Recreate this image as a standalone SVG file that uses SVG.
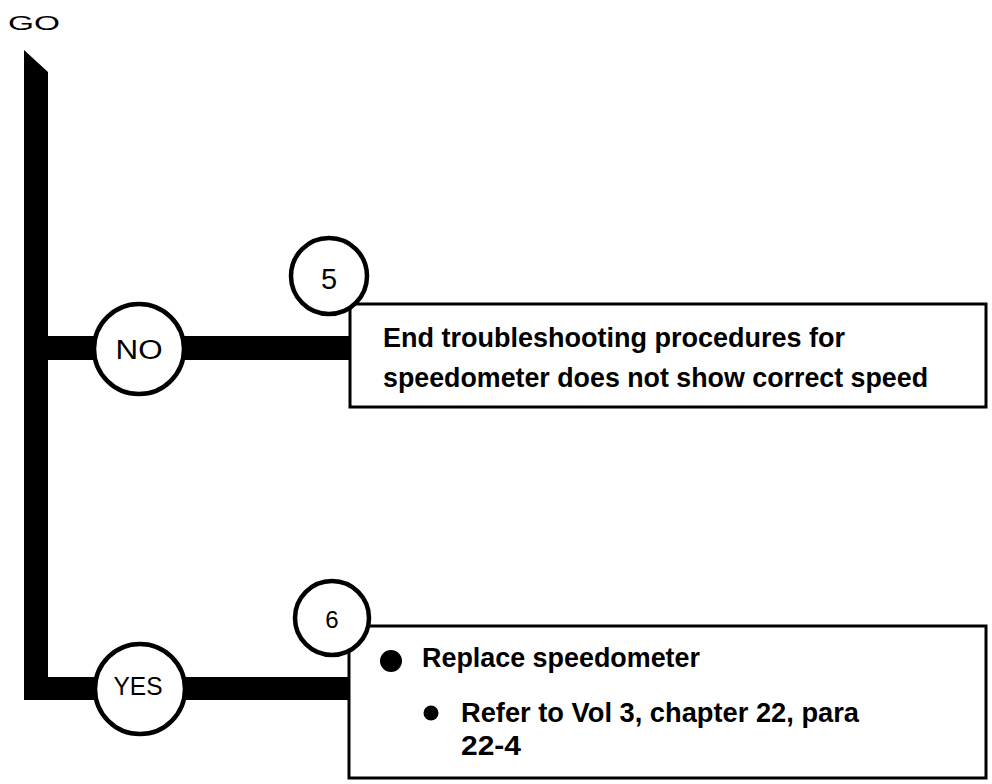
<svg xmlns="http://www.w3.org/2000/svg" width="992" height="784" viewBox="0 0 992 784">
<style>
.t{font-family:"Liberation Sans",Arial,sans-serif;fill:#000}
.lbl{text-anchor:middle}
.body{font-size:27px;font-weight:bold}
.ring{fill:#fff;stroke:#000;stroke-width:4.5}
.box{fill:#fff;stroke:#000;stroke-width:3}
</style>
<rect width="992" height="784" fill="#fff"/>
<text class="t" x="8" y="30" font-size="21" textLength="52" lengthAdjust="spacingAndGlyphs">GO</text>
<g id="connectors">
<polygon points="24,50 48,72 48,336 350,336 350,360 48,360 48,677 350,677 350,700 24,700" fill="#000"/>
</g>
<g id="node-no">
<circle class="ring" cx="139" cy="349" r="45"/>
<text class="t lbl" x="139" y="359" font-size="27" textLength="47" lengthAdjust="spacingAndGlyphs">NO</text>
</g>
<g id="node-5">
<rect class="box" x="350" y="304" width="636" height="103"/>
<circle class="ring" cx="329" cy="276" r="38"/>
<text class="t lbl" x="329" y="289" font-size="29">5</text>
<text class="t body" x="383" y="347" textLength="462" lengthAdjust="spacingAndGlyphs">End troubleshooting procedures for</text>
<text class="t body" x="383" y="387" textLength="545" lengthAdjust="spacingAndGlyphs">speedometer does not show correct speed</text>
</g>
<g id="node-yes">
<circle class="ring" cx="140" cy="689" r="45"/>
<text class="t lbl" x="138" y="695" font-size="26" textLength="49" lengthAdjust="spacingAndGlyphs">YES</text>
</g>
<g id="node-6">
<rect class="box" x="349" y="626" width="637" height="152"/>
<circle class="ring" cx="332" cy="618" r="37"/>
<text class="t lbl" x="332" y="628" font-size="24">6</text>
<circle cx="391" cy="661" r="11" fill="#000"/>
<text class="t body" x="422" y="667" textLength="278" lengthAdjust="spacingAndGlyphs">Replace speedometer</text>
<circle cx="431" cy="713" r="7.5" fill="#000"/>
<text class="t body" x="461" y="722" textLength="398" lengthAdjust="spacingAndGlyphs">Refer to Vol 3, chapter 22, para</text>
<text class="t body" x="461" y="755" textLength="60" lengthAdjust="spacingAndGlyphs">22-4</text>
</g>
</svg>
